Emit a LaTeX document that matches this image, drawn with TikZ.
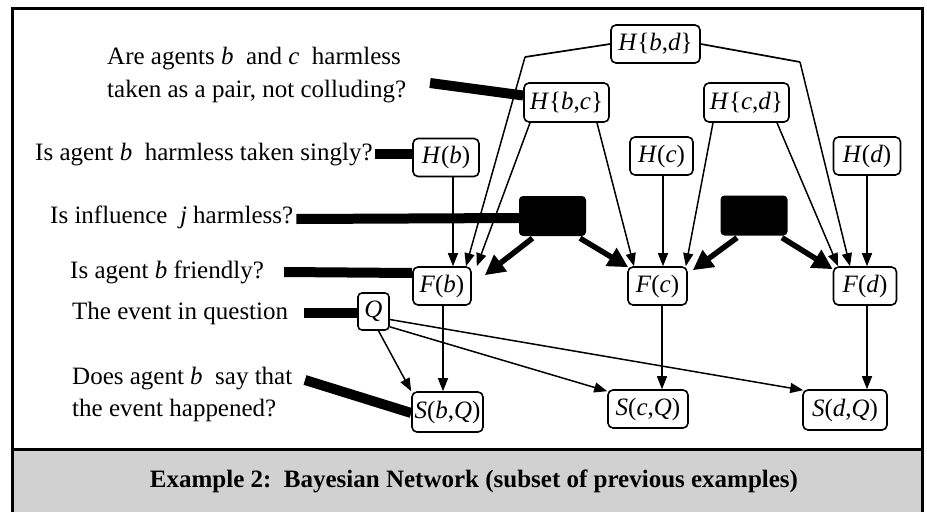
\documentclass[tikz,border=0pt]{standalone}
\usepackage{fontspec}
\setmainfont{Liberation Serif}
\usetikzlibrary{arrows.meta}
\newcommand\mi[1]{\textit{#1}}
\begin{document}
\begin{tikzpicture}[x=1pt,y=-1pt,
  nbox/.style={draw, rounded corners=5pt, line width=1.6pt, minimum height=38pt, inner sep=0pt, font=\fontsize{25}{28}\selectfont, fill=white},
  dbox/.style={fill=black, rounded corners=4pt, minimum width=67pt, minimum height=40pt, inner sep=0pt},
  lbl/.style={anchor=west, font=\fontsize{25}{33}\selectfont, inner sep=0pt, align=left},
  bar/.style={line width=10pt, line cap=butt},
  arr/.style={line width=1.5pt, -{Triangle[length=13pt,width=10pt]}},
  tarr/.style={line width=5.5pt, -{Triangle[length=20pt,width=20pt]}},
  ln/.style={line width=1.7pt}
]
\useasboundingbox (0,0) rectangle (927,512);
% caption band
\fill[black!18] (12,450) rectangle (922,512);
\draw[line width=3pt] (12,512) -- (12,8) -- (922,8) -- (922,512);
\draw[line width=3pt] (12,449) -- (922,449);
\node[font=\bfseries\fontsize{25}{27}\selectfont, inner sep=0pt] (cap) at (474,481) {Example 2:\ \ Bayesian Network (subset of previous examples)};

% nodes
\node[nbox, minimum width=89pt] (Hbd) at (655.5,44) {\mi{H}\{\mi{b},\mi{d}\}};
\node[nbox, minimum width=85pt, minimum height=39pt] (Hbc) at (566.5,102.5) {\mi{H}\{\mi{b},\mi{c}\}};
\node[nbox, minimum width=85pt, minimum height=39pt] (Hcd) at (746.5,102.5) {\mi{H}\{\mi{c},\mi{d}\}};
\node[nbox, minimum width=66pt] (Hb) at (446,157.5) {\mi{H}(\mi{b})};
\node[nbox, minimum width=63pt] (Hc) at (661.5,156) {\mi{H}(\mi{c})};
\node[nbox, minimum width=67pt] (Hd) at (867,156) {\mi{H}(\mi{d})};
\node[dbox] (j1) at (552.5,216) {};
\node[dbox] (j2) at (754,215.5) {};
\node[nbox, minimum width=58pt] (Fb) at (442,286) {\mi{F}(\mi{b})};
\node[nbox, minimum width=59pt] (Fc) at (657.5,286) {\mi{F}(\mi{c})};
\node[nbox, minimum width=63pt] (Fd) at (865,286) {\mi{F}(\mi{d})};
\node[nbox, minimum width=31pt, minimum height=37pt, rounded corners=4pt] (Q) at (373.5,311.5) {\mi{Q}};
\node[nbox, minimum width=71pt, minimum height=40pt] (Sbq) at (447.5,412) {\mi{S}(\mi{b},\mi{Q})};
\node[nbox, minimum width=80pt] (Scq) at (648,409) {\mi{S}(\mi{c},\mi{Q})};
\node[nbox, minimum width=84pt, minimum height=40pt] (Sdq) at (845,410) {\mi{S}(\mi{d},\mi{Q})};

% labels
\node[lbl] (L1) at (107,75) {Are agents \mi{b}\ \ and \mi{c}\ \ harmless\\taken as a pair, not colluding?};
\node[lbl] (L2) at (35,155) {Is agent \mi{b}\ \ harmless taken singly?};
\node[lbl] (L3) at (50,217) {Is influence\ \ \mi{j} harmless?};
\node[lbl] (L4) at (70,272) {Is agent \mi{b} friendly?};
\node[lbl] (L5) at (72,313) {The event in question};
\node[lbl, font=\fontsize{25}{32}\selectfont] (L6) at (72,394) {Does agent \mi{b}\ \ say that\\the event happened?};

% label bars
\coordinate (b1s) at (430,83);
\draw[bar] (b1s) -- ([yshift=7pt]Hbc.west);
\draw[bar] ([xshift=2pt]L2.east |- Hb.west) ++(0,-4) -- ([yshift=4pt]Hb.west);
\draw[bar] ([xshift=3pt]L3.east) ++(0,2) -- ([yshift=-2pt]j1.west);
\draw[bar] ([xshift=20pt]L4.east) -- ([yshift=13pt]Fb.west);
\draw[bar] ([xshift=16pt]L5.east) -- ([yshift=-1.5pt]Q.west);
\coordinate (b6s) at (305,380);
\draw[bar] (b6s) -- ([yshift=-1pt]Sbq.west);

% H{b,d} paths
\coordinate (kl) at (525,57);
\coordinate (kr) at (800,62);
\draw[ln] (Hbd.west) -- (kl);
\draw[arr] (kl) -- ([xshift=24pt]Fb.north);
\draw[ln] (Hbd.east) -- (kr);
\draw[arr] (kr) -- ([xshift=-15pt]Fd.north);

% into F(b)
\draw[arr] ([xshift=7pt]Hb.south) -- ([xshift=11pt]Fb.north);
\draw[arr] ([xshift=-36.5pt]Hbc.south) -- ([xshift=5pt]Fb.north east);
\draw[tarr] ([xshift=-20pt,yshift=-2pt]j1.south) -- ([xshift=13pt,yshift=-9pt]Fb.north east);

% into F(c)
\draw[arr] ([xshift=30.5pt]Hbc.south) -- ([xshift=-23.5pt]Fc.north);
\draw[tarr] ([xshift=27.5pt,yshift=-2pt]j1.south) -- ([xshift=1pt,yshift=-1pt]Fc.north west);
\draw[arr] ([xshift=1.5pt]Hc.south) -- ([xshift=5.5pt]Fc.north);
\draw[arr] ([xshift=-33.5pt]Hcd.south) -- ([xshift=-2pt]Fc.north east);
\draw[tarr] ([xshift=-17pt,yshift=-2pt]j2.south) -- ([xshift=5pt,yshift=-4pt]Fc.north east);

% into F(d)
\draw[arr] ([xshift=30.5pt]Hcd.south) -- ([xshift=-27pt]Fd.north);
\draw[arr] (Hd.south) -- ([xshift=2pt]Fd.north);
\draw[tarr] ([xshift=28pt,yshift=-2pt]j2.south) -- ([yshift=-3pt]Fd.north west);

% F -> S
\draw[arr] ([xshift=1pt]Fb.south) -- ([xshift=-4.5pt]Sbq.north);
\draw[arr] ([xshift=4.5pt]Fc.south) -- ([xshift=14pt]Scq.north);
\draw[arr] ([xshift=2pt]Fd.south) -- ([xshift=22pt]Sdq.north);

% Q -> S
\draw[arr] ([xshift=5pt]Q.south) -- (Sbq.north west);
\draw[arr] ([yshift=4pt]Q.south east) -- ([yshift=-2pt]Scq.north west);
\draw[arr] ([yshift=-8pt]Q.east) -- ([xshift=1pt,yshift=-1pt]Sdq.north west);
\end{tikzpicture}
\end{document}
